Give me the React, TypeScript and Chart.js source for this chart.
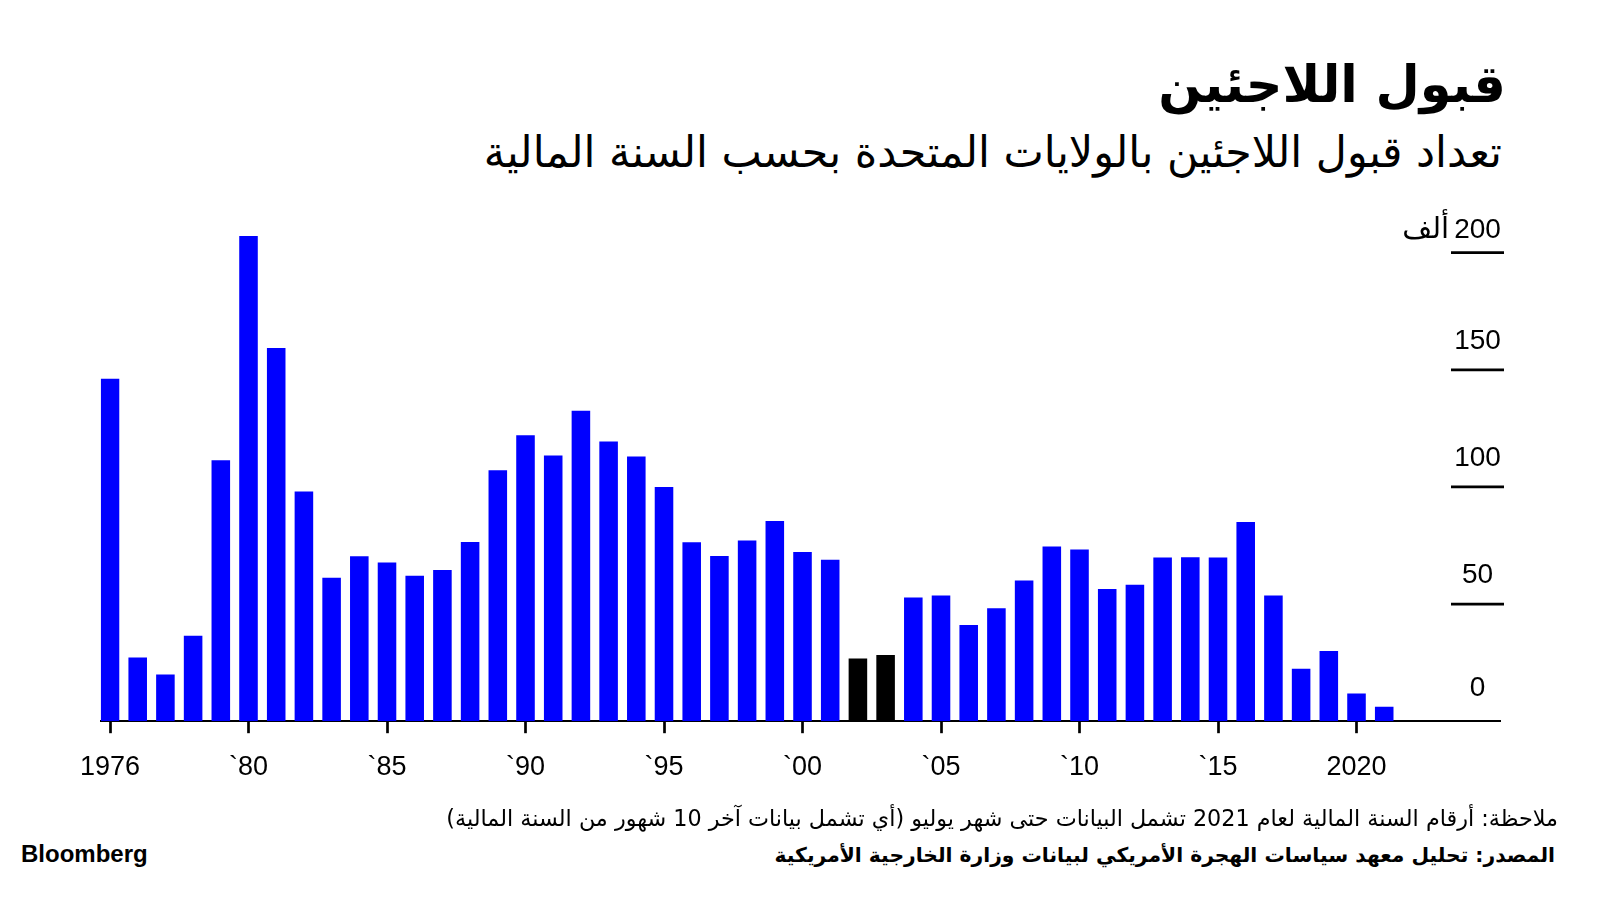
import React, { useEffect, useRef } from "react";
import { Chart, registerables } from "chart.js";

Chart.register(...registerables);

// ---- data (refugee admissions, thousands, by fiscal year) ----
const years = [
  1975, 1976, 1977, 1978, 1979, 1980, 1981, 1982, 1983, 1984, 1985, 1986,
  1987, 1988, 1989, 1990, 1991, 1992, 1993, 1994, 1995, 1996, 1997, 1998,
  1999, 2000, 2001, 2002, 2003, 2004, 2005, 2006, 2007, 2008, 2009, 2010,
  2011, 2012, 2013, 2014, 2015, 2016, 2017, 2018, 2019, 2020, 2021,
];
const admissions = [
  146.2, 27.2, 19.9, 36.5, 111.4, 207.1, 159.3, 98.1, 61.2, 70.4, 67.7, 62.1,
  64.5, 76.5, 107.1, 122.1, 113.4, 132.5, 119.4, 113.0, 100.0, 76.4, 70.5, 77.1,
  85.5, 72.2, 68.9, 26.8, 28.3, 52.8, 53.7, 41.1, 48.2, 60.1, 74.6, 73.3,
  56.4, 58.2, 69.9, 70.0, 69.9, 85.0, 53.7, 22.4, 30.0, 11.8, 6.2,
];
const highlightYears = [2002, 2003];

const xTickYears = [1975, 1980, 1985, 1990, 1995, 2000, 2005, 2010, 2015, 2020];
const xTickLabels = ["1976", "`80", "`85", "`90", "`95", "`00", "`05", "`10", "`15", "2020"];
const yTickValues = [0, 50, 100, 150, 200];
const yTickLabels = ["0", "50", "100", "150", "200"];
const yLabelOffsets = [25, 21, 21, 21, 15];
const yUnitLabel = "ألف";

const titleText = "قبول اللاجئين";
const subtitleText = "تعداد قبول اللاجئين بالولايات المتحدة بحسب السنة المالية";
const noteText =
  "ملاحظة: أرقام السنة المالية لعام 2021 تشمل البيانات حتى شهر يوليو (أي تشمل بيانات آخر 10 شهور من السنة المالية)";
const sourceText =
  "المصدر: تحليل معهد سياسات الهجرة الأمريكي لبيانات وزارة الخارجية الأمريكية";

const BLUE = "#0000ff";
const BLACK = "#000000";
const ARABIC_FONT = '"DejaVu Sans", sans-serif';
const LATIN_FONT = '"Liberation Sans", Arial, sans-serif';

const yTickPlugin = {
  id: "rightTicks",
  afterDraw(chart: any) {
    const ctx = chart.ctx as CanvasRenderingContext2D;
    const yScale = chart.scales.y;
    const area = chart.chartArea;
    const x1 = area.right + 4;
    const x0 = x1 - 53;
    const xc = (x0 + x1) / 2;
    ctx.save();
    yTickValues.forEach((v, i) => {
      const py = yScale.getPixelForValue(v);
      if (v !== 0) {
        ctx.strokeStyle = BLACK;
        ctx.lineWidth = 2.7;
        ctx.beginPath();
        ctx.moveTo(x0, py);
        ctx.lineTo(x1, py);
        ctx.stroke();
      }
      ctx.font = `28px ${LATIN_FONT}`;
      ctx.fillStyle = BLACK;
      ctx.textAlign = "center";
      ctx.textBaseline = "alphabetic";
      const label = yTickLabels[i];
      const off = yLabelOffsets[i];
      ctx.fillText(label, xc, py - off);
      if (i === yTickValues.length - 1) {
        const w = ctx.measureText(label).width;
        ctx.font = `29px ${ARABIC_FONT}`;
        ctx.textAlign = "right";
        ctx.fillText(yUnitLabel, xc - w / 2 - 5, py - off);
      }
    });
    ctx.restore();
  },
};

function BarChart() {
  const ref = useRef<HTMLCanvasElement | null>(null);
  useEffect(() => {
    if (!ref.current) return;
    const chart = new Chart(ref.current, {
      type: "bar",
      data: {
        datasets: [
          {
            data: years.map((yr, i) => ({ x: yr, y: admissions[i] })),
            backgroundColor: years.map((yr) =>
              highlightYears.includes(yr) ? BLACK : BLUE
            ),
            borderWidth: 0,
            barPercentage: 0.67,
            categoryPercentage: 1,
          },
        ],
      },
      options: {
        animation: false,
        responsive: false,
        maintainAspectRatio: false,
        layout: { padding: { left: 100.7, right: 100, top: 29.3, bottom: 17.4 } },
        plugins: { legend: { display: false }, tooltip: { enabled: false } },
        scales: {
          x: {
            type: "linear",
            min: 1974.664,
            max: 2025.18,
            offset: false,
            afterBuildTicks: (axis: any) => {
              axis.ticks = xTickYears.map((v) => ({ value: v }));
            },
            ticks: {
              autoSkip: false,
              maxRotation: 0,
              padding: 18.5,
              color: BLACK,
              font: { family: LATIN_FONT, size: 27 },
              callback: (_v: any, index: number) => xTickLabels[index] ?? "",
            },
            grid: {
              offset: false,
              drawOnChartArea: false,
              drawTicks: true,
              tickLength: 12,
              tickWidth: 2.7,
              tickColor: BLACK,
            },
            border: { display: true, color: BLACK, width: 2 },
          },
          y: { display: false, min: 0, max: 210 },
        },
      } as any,
      plugins: [yTickPlugin],
    });
    return () => chart.destroy();
  }, []);
  return (
    <canvas
      ref={ref}
      width={1600}
      height={620}
      style={{ position: "absolute", left: 0, top: 200, width: 1600, height: 620 }}
    />
  );
}

export default function App() {
  return (
    <div
      style={{
        position: "absolute",
        left: 0,
        top: 0,
        width: 1600,
        height: 900,
        background: "#ffffff",
        overflow: "hidden",
      }}
    >
      <div
        dir="rtl"
        style={{
          position: "absolute",
          right: 94,
          top: 54,
          fontFamily: ARABIC_FONT,
          fontWeight: 700,
          fontSize: 51,
          lineHeight: 1.2,
          color: BLACK,
          whiteSpace: "nowrap",
        }}
      >
        {titleText}
      </div>
      <div
        dir="rtl"
        style={{
          position: "absolute",
          right: 98,
          top: 127,
          fontFamily: ARABIC_FONT,
          fontSize: 42.8,
          lineHeight: 1.2,
          color: BLACK,
          whiteSpace: "nowrap",
        }}
      >
        {subtitleText}
      </div>
      <BarChart />
      <div
        dir="rtl"
        style={{
          position: "absolute",
          right: 42,
          top: 805,
          fontFamily: ARABIC_FONT,
          fontSize: 22.3,
          lineHeight: 1.2,
          color: BLACK,
          whiteSpace: "nowrap",
        }}
      >
        {noteText}
      </div>
      <div
        dir="rtl"
        style={{
          position: "absolute",
          right: 45,
          top: 843,
          fontFamily: ARABIC_FONT,
          fontWeight: 700,
          fontSize: 20.3,
          lineHeight: 1.2,
          color: BLACK,
          whiteSpace: "nowrap",
        }}
      >
        {sourceText}
      </div>
      <div
        style={{
          position: "absolute",
          left: 21,
          top: 840,
          fontFamily: LATIN_FONT,
          fontWeight: 700,
          fontSize: 24,
          lineHeight: 1.2,
          color: BLACK,
        }}
      >
        Bloomberg
      </div>
    </div>
  );
}
